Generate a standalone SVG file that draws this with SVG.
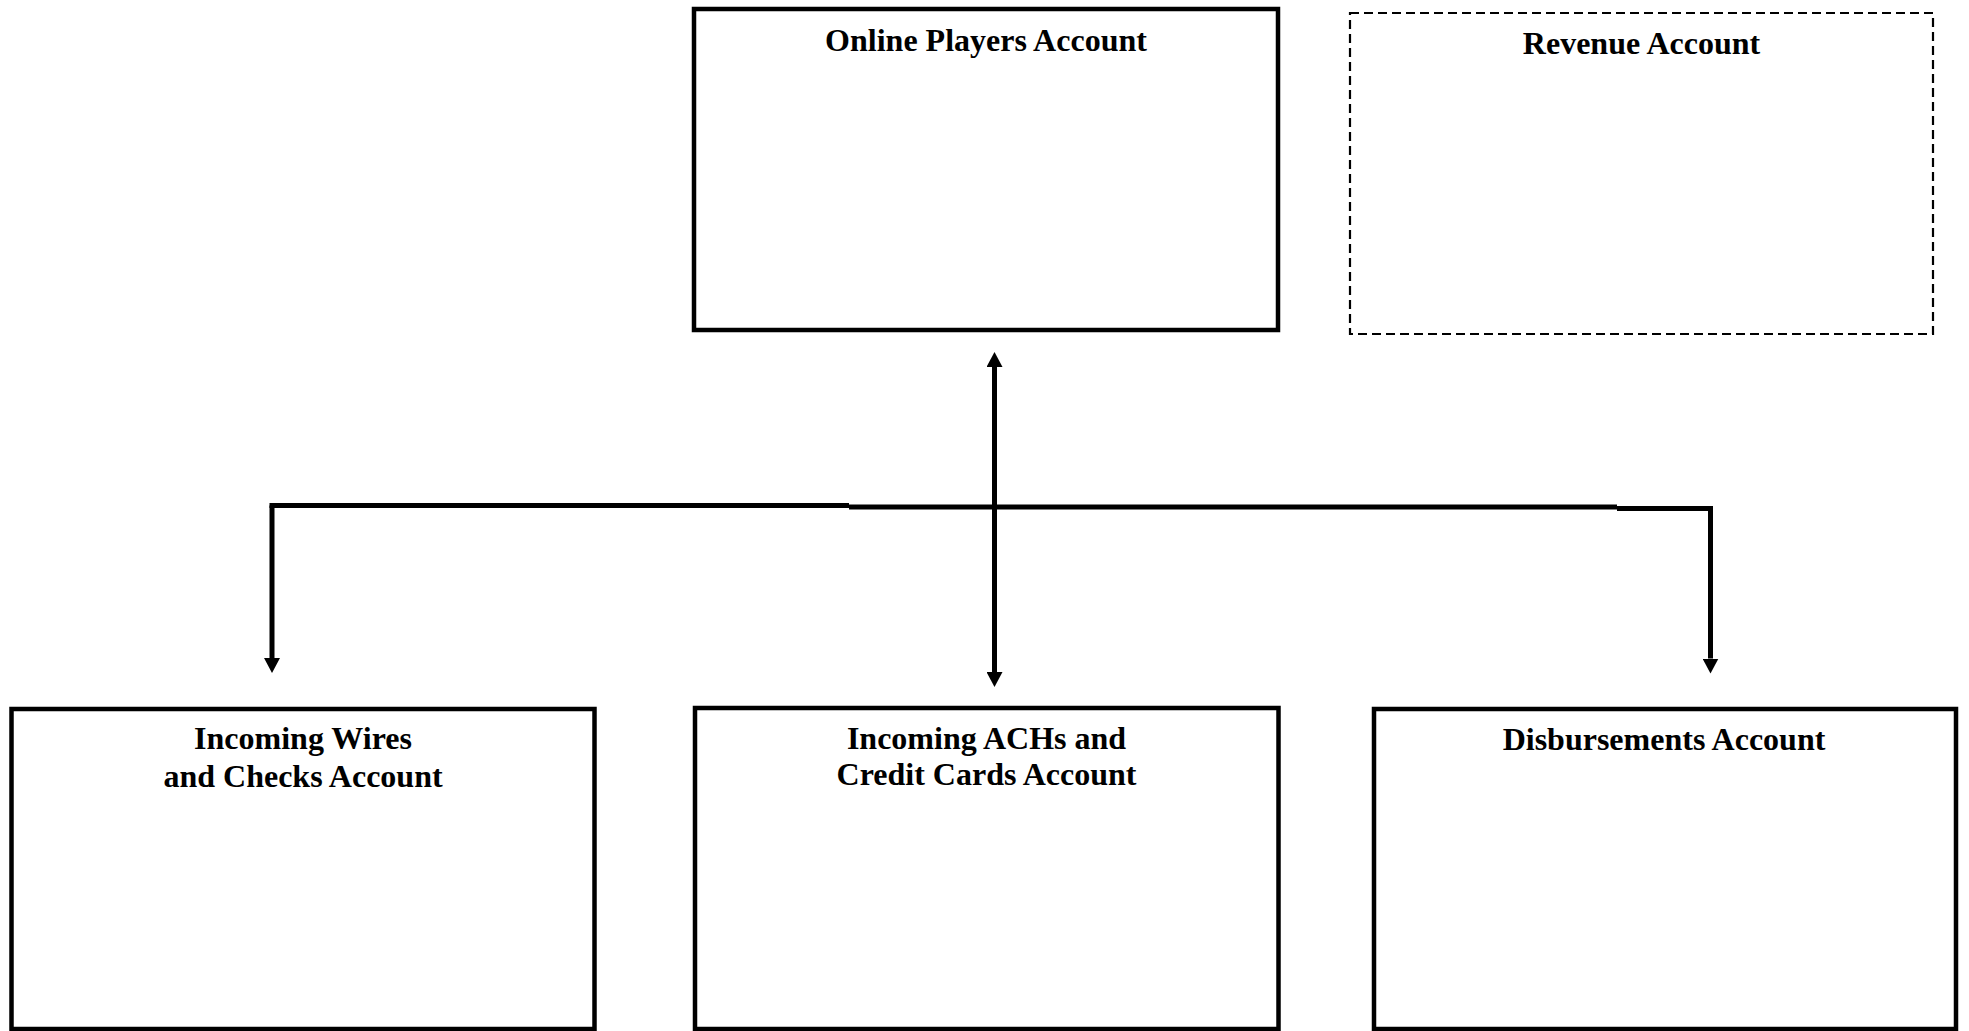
<svg xmlns="http://www.w3.org/2000/svg" width="1969" height="1031" viewBox="0 0 1969 1031">
<style>
.box{fill:#fff;stroke:#000;stroke-width:4.5}
.dash{fill:#fff;stroke:#000;stroke-width:2.2;stroke-dasharray:9 5}
.lbl{font-family:"Liberation Serif","Times New Roman",serif;font-weight:bold;font-size:32px;fill:#000;text-anchor:middle}
.con{fill:none;stroke:#000;stroke-width:5}
</style>
<defs>
<marker id="arrow" viewBox="0 0 15 16" refX="0" refY="8" markerWidth="15" markerHeight="16" markerUnits="userSpaceOnUse" orient="auto-start-reverse">
<path d="M0,0 L15,8 L0,16 z" fill="#000"/>
</marker>
</defs>
<rect width="1969" height="1031" fill="#fff"/>
<g id="connectors">
<path class="con" d="M269.5,505.5 H849 M849,507 H1617 M1617,508.5 H1713"/>
<path class="con" d="M272,505.5 V658" marker-end="url(#arrow)"/>
<path class="con" d="M1710.5,508.5 V658.5" marker-end="url(#arrow)"/>
<path class="con" d="M994.5,367 V672" marker-start="url(#arrow)" marker-end="url(#arrow)"/>
</g>
<g id="online-players">
<rect class="box" x="694" y="9" width="584" height="321"/>
<text class="lbl" x="986" y="51">Online Players Account</text>
</g>
<g id="revenue">
<rect class="dash" x="1350" y="13" width="583" height="321"/>
<text class="lbl" x="1641.5" y="53.5">Revenue Account</text>
</g>
<g id="incoming-wires">
<rect class="box" x="11.5" y="709" width="583" height="320"/>
<text class="lbl" x="303" y="749">Incoming Wires</text>
<text class="lbl" x="303" y="786.5">and Checks Account</text>
</g>
<g id="incoming-ach">
<rect class="box" x="695" y="708" width="583.5" height="321"/>
<text class="lbl" x="986.5" y="748.5">Incoming ACHs and</text>
<text class="lbl" x="986.5" y="785">Credit Cards Account</text>
</g>
<g id="disbursements">
<rect class="box" x="1374" y="709" width="582" height="320"/>
<text class="lbl" x="1664" y="750">Disbursements Account</text>
</g>
</svg>
